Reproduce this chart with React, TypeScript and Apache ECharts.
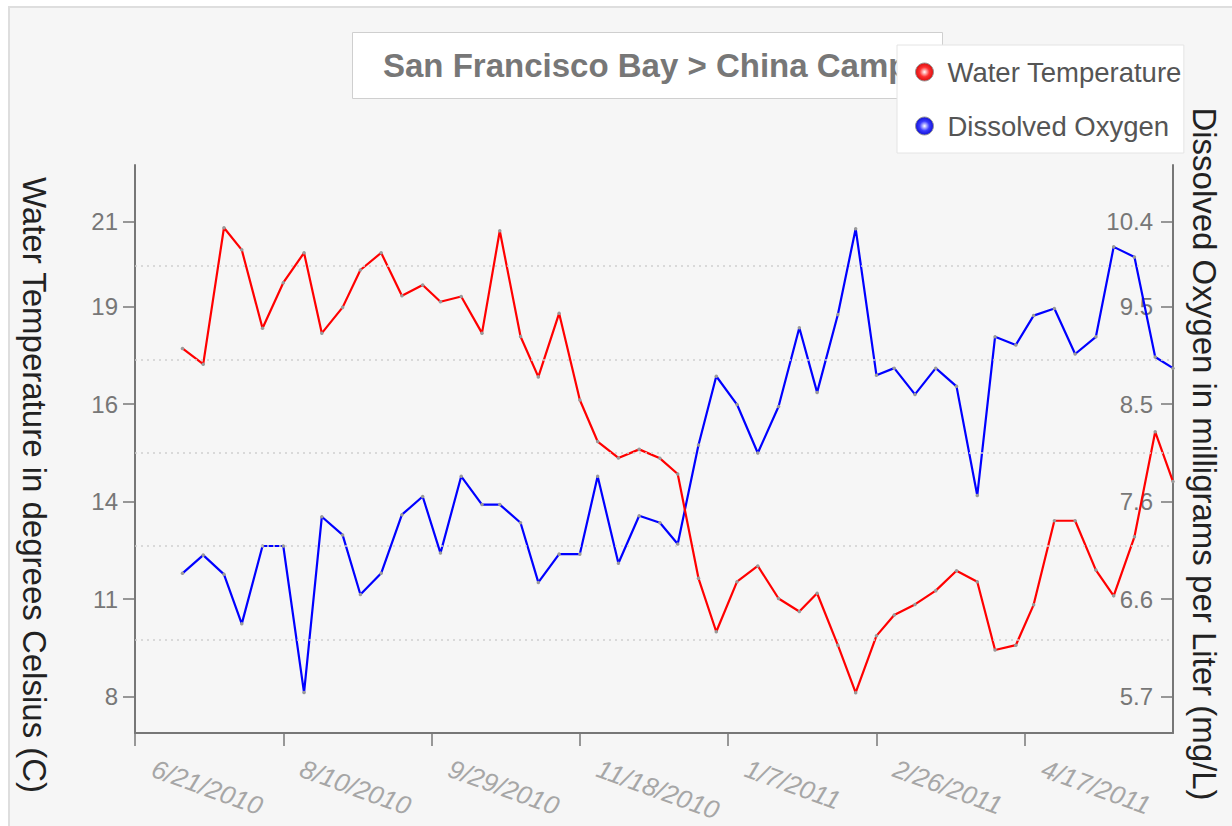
import React, { useEffect, useRef } from "react";
import * as echarts from "echarts";

// ---------------- data ----------------
const sampleDates = [
  "2010-07-07", "2010-07-14", "2010-07-21", "2010-07-27", "2010-08-03", "2010-08-10",
  "2010-08-17", "2010-08-23", "2010-08-30", "2010-09-05", "2010-09-12", "2010-09-19",
  "2010-09-26", "2010-10-02", "2010-10-09", "2010-10-16", "2010-10-22", "2010-10-29",
  "2010-11-04", "2010-11-11", "2010-11-18", "2010-11-24", "2010-12-01", "2010-12-08",
  "2010-12-15", "2010-12-21", "2010-12-28", "2011-01-03", "2011-01-10", "2011-01-17",
  "2011-01-24", "2011-01-31", "2011-02-06", "2011-02-13", "2011-02-19", "2011-02-26",
  "2011-03-04", "2011-03-11", "2011-03-18", "2011-03-25", "2011-04-01", "2011-04-07",
  "2011-04-14", "2011-04-20", "2011-04-27", "2011-05-04", "2011-05-11", "2011-05-17",
  "2011-05-24", "2011-05-31", "2011-06-06",
];

const waterTemperature = [
  17.79, 17.37, 21.02, 20.43, 18.33, 19.55, 20.35, 18.2, 18.89, 19.89,
  20.35, 19.2, 19.49, 19.04, 19.18, 18.2, 20.94, 18.11, 17.03, 18.73,
  16.41, 15.3, 14.86, 15.09, 14.85, 14.43, 11.64, 10.21, 11.55, 11.97,
  11.1, 10.75, 11.24, 9.85, 8.58, 10.1, 10.66, 10.94, 11.31, 11.84,
  11.55, 9.72, 9.85, 10.93, 13.18, 13.18, 11.86, 11.17, 12.75, 15.56,
  14.23,
];

const dissolvedOxygen = [
  6.9, 7.08, 6.89, 6.4, 7.17, 7.17, 5.72, 7.46, 7.28, 6.69,
  6.9, 7.48, 7.66, 7.1, 7.86, 7.58, 7.58, 7.4, 6.81, 7.09,
  7.09, 7.86, 7.0, 7.47, 7.4, 7.19, 8.17, 8.85, 8.57, 8.09,
  8.55, 9.33, 8.69, 9.46, 10.31, 8.86, 8.93, 8.67, 8.93, 8.75,
  7.67, 9.24, 9.16, 9.45, 9.52, 9.07, 9.24, 10.13, 10.03, 9.04,
  8.93,
];

const xAxisStartDate = "2010-06-21";
const xTickStepDays = 50;
const xAxisSpanDays = 350;

const tempAxisRange = [7.5, 22.7];
const tempTickValues = [8.47, 11.08, 13.69, 16.3, 18.91, 21.18];
const tempTickLabels = ["8", "11", "14", "16", "19", "21"];
const tempGridValues = [10, 12.5, 15, 17.5, 20];

const oxyAxisRange = [5.32, 10.94];
const oxyTickValues = [5.679, 6.644, 7.609, 8.573, 9.538, 10.379];
const oxyTickLabels = ["5.7", "6.6", "7.6", "8.5", "9.5", "10.4"];

const titleText = "San Francisco Bay > China Camp";
const seriesNames = ["Water Temperature", "Dissolved Oxygen"];
const axisNames = [
  "Water Temperature in degrees Celsius (C)",
  "Dissolved Oxygen in milligrams per Liter (mg/L)",
];

// ---------------- helpers ----------------
const DAY = 86400000;
const startMs = Date.parse(xAxisStartDate);
const dayOffset = (d: string) => Math.round((Date.parse(d) - startMs) / DAY);
const fmtDay = (v: number) => {
  const dt = new Date(startMs + v * DAY);
  return `${dt.getUTCMonth() + 1}/${dt.getUTCDate()}/${dt.getUTCFullYear()}`;
};
const lookupLabel = (values: number[], labels: string[]) => (v: number) => {
  let best = 0;
  for (let i = 1; i < values.length; i++) {
    if (Math.abs(values[i] - v) < Math.abs(values[best] - v)) best = i;
  }
  return labels[best];
};

const FONT = "'Liberation Sans', Arial, Helvetica, sans-serif";

const ballGradient = (mid: string, dark: string) =>
  new echarts.graphic.RadialGradient(0.5, 0.5, 0.6, [
    { offset: 0, color: "#ffffff" },
    { offset: 0.45, color: mid },
    { offset: 1, color: dark },
  ]);

export default function App() {
  const ref = useRef<HTMLDivElement>(null);

  useEffect(() => {
    if (!ref.current) return;
    const chart = echarts.init(ref.current, undefined, { renderer: "svg" });

    const tempData = sampleDates.map((d, i) => [dayOffset(d), waterTemperature[i]]);
    const oxyData = sampleDates.map((d, i) => [dayOffset(d), dissolvedOxygen[i]]);

    const axisLineStyle = { color: "#777", width: 2 };
    const tickLineStyle = { color: "#777", width: 1.5 };

    chart.setOption({
      animation: false,
      backgroundColor: "transparent",
      graphic: [
        {
          type: "rect",
          z: -100,
          silent: true,
          shape: { x: 9, y: 7, width: 1240, height: 840 },
          style: { fill: "#f6f6f6", stroke: "#dedede", lineWidth: 2 },
        },
      ],
      title: {
        text: titleText,
        left: 352,
        top: 32,
        padding: [17, 34, 17, 31],
        backgroundColor: "#ffffff",
        borderColor: "#cfcfcf",
        borderWidth: 1,
        z: 1,
        textStyle: {
          fontFamily: FONT,
          fontWeight: "bold",
          fontSize: 33,
          color: "#777",
        },
      },
      legend: {
        orient: "vertical",
        left: 897,
        top: 45,
        padding: [13, 2, 13, 18],
        itemGap: 26,
        itemWidth: 18,
        itemHeight: 18,
        selectedMode: false,
        backgroundColor: "#ffffff",
        borderColor: "#e4e4e4",
        borderWidth: 1,
        z: 10,
        textStyle: { fontFamily: FONT, fontSize: 27.5, color: "#555", padding: [0, 0, 0, 9] },
        data: [
          {
            name: seriesNames[0],
            icon: "circle",
            itemStyle: { color: ballGradient("#ff3030", "#c80000"), borderColor: "#999", borderWidth: 1 },
          },
          {
            name: seriesNames[1],
            icon: "circle",
            itemStyle: { color: ballGradient("#3a3aff", "#0000c0"), borderColor: "#999", borderWidth: 1 },
          },
        ],
      },
      grid: {
        left: 135,
        right: 59,
        top: 165,
        bottom: 93,
        containLabel: false,
        outerBoundsMode: "none",
      },
      xAxis: {
        type: "value",
        min: 0,
        max: xAxisSpanDays,
        interval: xTickStepDays,
        axisLine: { show: true, onZero: false, lineStyle: axisLineStyle },
        axisTick: { show: true, length: 13, lineStyle: tickLineStyle },
        splitLine: { show: false },
        axisLabel: {
          rotate: -20,
          margin: 28,
          padding: [0, 0, 0, 19],
          fontFamily: FONT,
          fontStyle: "italic",
          fontSize: 26,
          color: "#a6a6a6",
          showMaxLabel: false,
          formatter: (v: number) => fmtDay(v),
        },
      },
      yAxis: [
        {
          type: "value",
          position: "left",
          min: tempAxisRange[0],
          max: tempAxisRange[1],
          name: axisNames[0],
          nameLocation: "middle",
          nameRotate: -90,
          nameGap: 84,
          nameTextStyle: { fontFamily: FONT, fontSize: 33, color: "#222", padding: [0, 0, 0, 72] },
          axisLine: { show: true, onZero: false, lineStyle: axisLineStyle },
          axisTick: { show: true, length: 12, customValues: tempTickValues, lineStyle: tickLineStyle },
          axisLabel: {
            customValues: tempTickValues,
            margin: 17,
            fontFamily: FONT,
            fontSize: 24,
            color: "#777",
            formatter: lookupLabel(tempTickValues, tempTickLabels),
          },
          splitLine: { show: false },
        },
        {
          type: "value",
          position: "right",
          min: oxyAxisRange[0],
          max: oxyAxisRange[1],
          name: axisNames[1],
          nameLocation: "middle",
          nameRotate: -90,
          nameGap: 15,
          nameTextStyle: { fontFamily: FONT, fontSize: 33, color: "#222", padding: [0, 0, 0, 10] },
          axisLine: { show: true, onZero: false, lineStyle: axisLineStyle },
          axisTick: { show: true, inside: true, length: 12, customValues: oxyTickValues, lineStyle: tickLineStyle },
          axisLabel: {
            inside: true,
            customValues: oxyTickValues,
            margin: 20,
            fontFamily: FONT,
            fontSize: 24,
            color: "#777",
            formatter: lookupLabel(oxyTickValues, oxyTickLabels),
          },
          splitLine: { show: false },
        },
      ],
      series: [
        {
          name: seriesNames[1],
          type: "line",
          yAxisIndex: 1,
          data: oxyData,
          symbol: "circle",
          symbolSize: 3.5,
          showSymbol: true,
          itemStyle: { color: "#9a9a9a", borderWidth: 0 },
          lineStyle: { color: "#0000ff", width: 2.2 },
          emphasis: { disabled: true },
          z: 3,
        },
        {
          name: seriesNames[0],
          type: "line",
          yAxisIndex: 0,
          data: tempData,
          symbol: "circle",
          symbolSize: 3.5,
          showSymbol: true,
          itemStyle: { color: "#9a9a9a", borderWidth: 0 },
          lineStyle: { color: "#ff0000", width: 2.2 },
          emphasis: { disabled: true },
          z: 3,
          markLine: {
            silent: true,
            symbol: "none",
            label: { show: false },
            lineStyle: { color: "#d0d0d0", type: [2, 4], width: 1.5 },
            emphasis: { disabled: true },
            data: tempGridValues.map((v) => ({ yAxis: v })),
          },
        },
      ],
    });

    return () => chart.dispose();
  }, []);

  return (
    <div
      ref={ref}
      style={{ position: "absolute", left: 0, top: 0, width: 1232, height: 826, background: "#ffffff" }}
    />
  );
}
